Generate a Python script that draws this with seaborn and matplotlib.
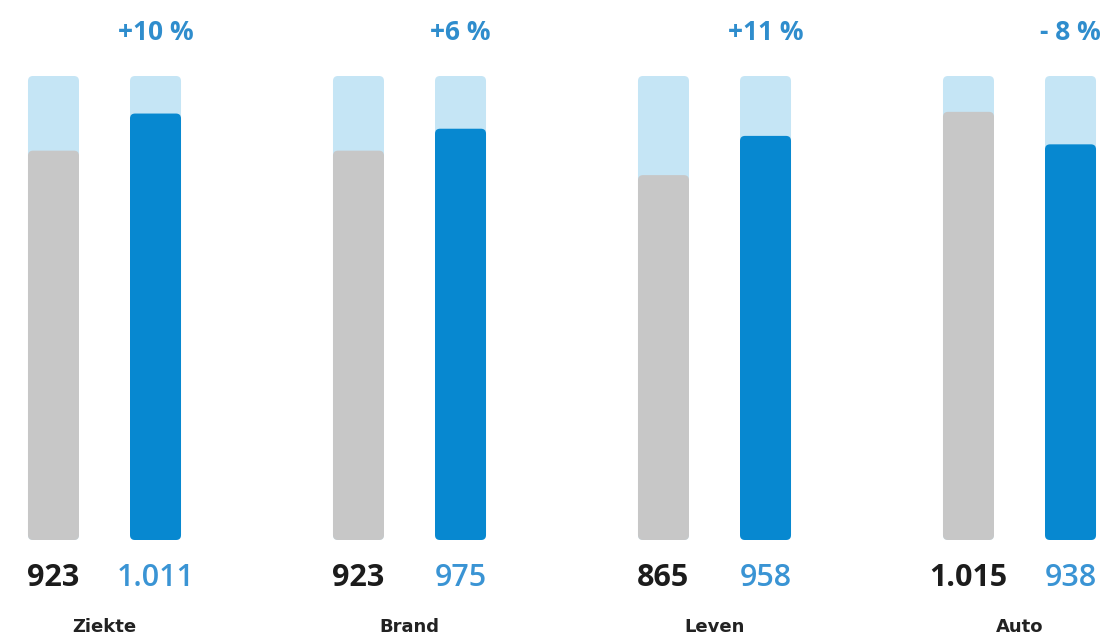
import matplotlib
matplotlib.use("Agg")
import matplotlib.pyplot as plt
from matplotlib.patches import FancyBboxPatch
import pandas as pd
import seaborn as sns

# Premium volumes per branch, previous vs current year
categories = ["Ziekte", "Brand", "Leven", "Auto"]
previous = [923, 923, 865, 1015]
current = [1011, 975, 958, 938]
changes = ["+10 %", "+6 %", "+11 %", "- 8 %"]
periods = ["vorig jaar", "dit jaar"]

TRACK = 1100  # value reached by the pale track behind every bar

GRAY = "#C7C7C7"
BLUE = "#0788D0"
TRACK_COLOR = "#C5E5F5"
NUM_DARK = "#1C1C1C"
NUM_BLUE = "#3A94D4"
PCT_BLUE = "#2F8DCD"

df = pd.DataFrame({
    "categorie": categories * 2,
    "periode": [periods[0]] * len(categories) + [periods[1]] * len(categories),
    "waarde": previous + current,
})

sns.set_theme(style="white")
plt.rcParams["font.family"] = ["Open Sans", "DejaVu Sans"]

W, H = 1108, 637
fig = plt.figure(figsize=(W / 100, H / 100), dpi=100)
ax = fig.add_axes([0, 0, 1, 1])

sns.barplot(
    data=df, x="categorie", y="waarde", hue="periode",
    order=categories, hue_order=periods, palette=[GRAY, BLUE],
    width=0.669, gap=0.5, saturation=1, linewidth=0,
    errorbar=None, legend=False, ax=ax,
)

# pixel geometry of the layout
group_px = 305.0          # distance between category centres
first_center_px = 104.5   # x of the first category centre
base_px = 540.0           # baseline, from the top
track_px = 464.0          # height of the track in pixels
ux = 1 / group_px         # x data units per pixel
uy = TRACK / track_px     # y data units per pixel

ax.set_xlim(-first_center_px * ux, (W - first_center_px) * ux)
ax.set_ylim(-(H - base_px) * uy, base_px * uy)
ax.set_axis_off()

# swap the square bars for rounded ones, each with a pale track behind it
bars = sorted(ax.patches, key=lambda p: p.get_x())
for p in list(ax.patches):
    p.remove()

radius = 5 * ux
aspect = uy / ux
values = []
for i, cat in enumerate(categories):
    values += [previous[i], current[i]]

for k, bar in enumerate(bars):
    x, w, h = bar.get_x(), bar.get_width(), bar.get_height()
    color = bar.get_facecolor()
    track = FancyBboxPatch((x, 0), w, TRACK,
                           boxstyle=f"round,pad=0,rounding_size={radius}",
                           mutation_aspect=aspect, facecolor=TRACK_COLOR,
                           edgecolor="none", zorder=1)
    ax.add_patch(track)
    fg = FancyBboxPatch((x, 0), w, h,
                        boxstyle=f"round,pad=0,rounding_size={radius}",
                        mutation_aspect=aspect, facecolor=color,
                        edgecolor="none", zorder=2)
    ax.add_patch(fg)

    cx = x + w / 2
    is_current = k % 2 == 1
    label = f"{values[k]:,}".replace(",", ".")
    ax.text(cx, -38 * uy, label, ha="center", va="center",
            fontsize=22, fontweight="semibold" if is_current else "bold",
            color=NUM_BLUE if is_current else NUM_DARK, zorder=3)
    if is_current:
        ax.text(cx, 508 * uy, changes[k // 2], ha="center", va="center",
                fontsize=19, fontweight="bold", color=PCT_BLUE, zorder=3)

for i, cat in enumerate(categories):
    ax.text(i, -87 * uy, cat, ha="center", va="center",
            fontsize=13, fontweight="bold", color="#222222",
            family=["DejaVu Sans"], zorder=3)

fig.savefig("out.png", dpi=100, facecolor="white")
